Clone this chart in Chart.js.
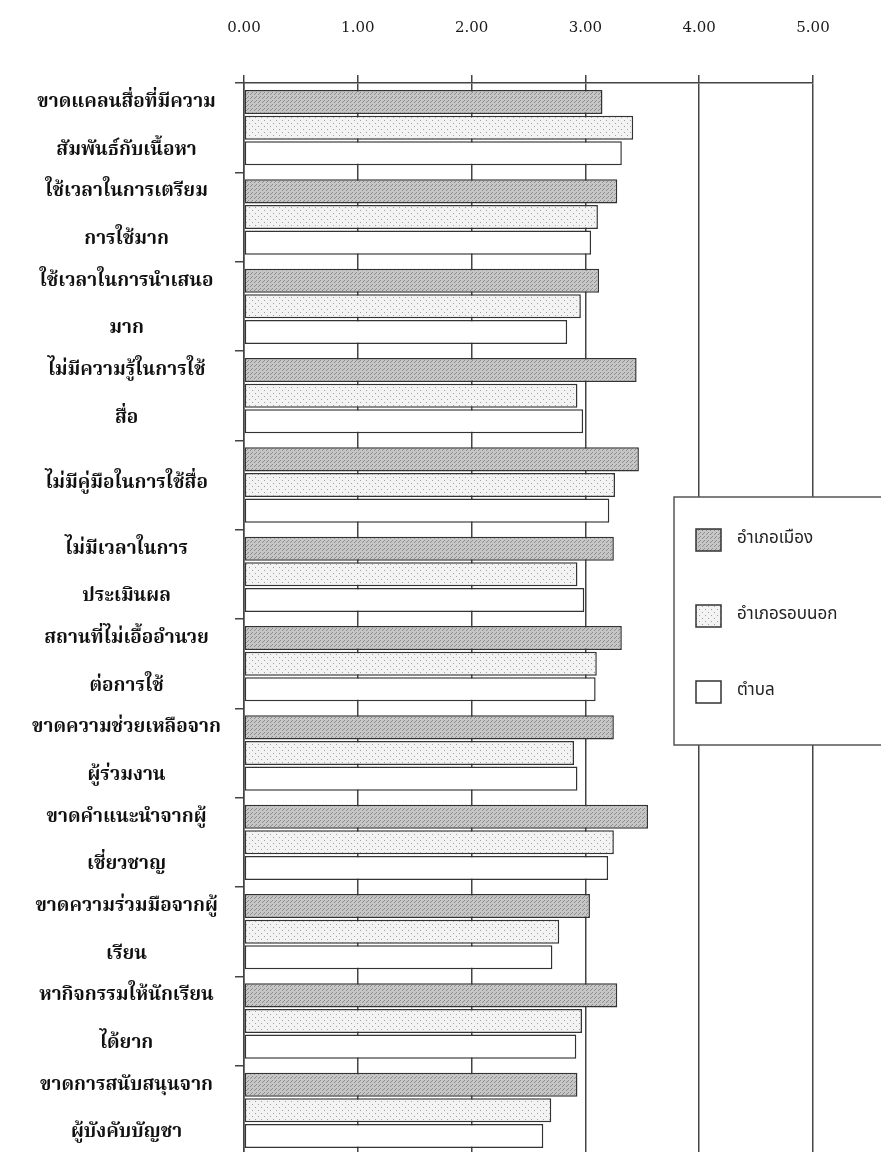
<!DOCTYPE html>
<html>
<head>
<meta charset="utf-8">
<script src="https://cdn.jsdelivr.net/npm/chart.js@4.4.1/dist/chart.umd.min.js"></script>
<style>
    html, body { margin: 0; padding: 0; background: #fff; overflow: hidden; }
    #wrap { position: relative; width: 881px; height: 1160px; }
</style>
</head>
<body>
<div id="wrap"><canvas id="barChart"></canvas></div>
<script>
// Categories (problems), top to bottom
const categories = [
    ['ขาดแคลนสื่อที่มีความ', 'สัมพันธ์กับเนื้อหา'],
    ['ใช้เวลาในการเตรียม', 'การใช้มาก'],
    ['ใช้เวลาในการนำเสนอ', 'มาก'],
    ['ไม่มีความรู้ในการใช้', 'สื่อ'],
    'ไม่มีคู่มือในการใช้สื่อ',
    ['ไม่มีเวลาในการ', 'ประเมินผล'],
    ['สถานที่ไม่เอื้ออำนวย', 'ต่อการใช้'],
    ['ขาดความช่วยเหลือจาก', 'ผู้ร่วมงาน'],
    ['ขาดคำแนะนำจากผู้', 'เชี่ยวชาญ'],
    ['ขาดความร่วมมือจากผู้', 'เรียน'],
    ['หากิจกรรมให้นักเรียน', 'ได้ยาก'],
    ['ขาดการสนับสนุนจาก', 'ผู้บังคับบัญชา']
];

const seriesNames = ['อำเภอเมือง', 'อำเภอรอบนอก', 'ตำบล'];

// Mean scores
const muangValues = [3.15, 3.28, 3.12, 3.45, 3.47, 3.25, 3.32, 3.25, 3.55, 3.04, 3.28, 2.93];
const outerValues = [3.42, 3.11, 2.96, 2.93, 3.26, 2.93, 3.10, 2.90, 3.25, 2.77, 2.97, 2.70];
const tambonValues = [3.32, 3.05, 2.84, 2.98, 3.21, 2.99, 3.09, 2.93, 3.20, 2.71, 2.92, 2.63];

const xTicks = [0, 1, 2, 3, 4, 5];

const thaiSerif = '"Noto Serif Thai", "Noto Sans Thai", serif';
const thaiSans = '"Noto Sans Thai", "Noto Sans", sans-serif';

// Small tiled patterns to mimic the printed hatching
function makePattern(size, base, dot, dots) {
    const c = document.createElement('canvas');
    c.width = size;
    c.height = size;
    const g = c.getContext('2d');
    g.fillStyle = base;
    g.fillRect(0, 0, size, size);
    g.fillStyle = dot;
    dots.forEach(p => g.fillRect(p[0], p[1], 1, 1));
    return g.createPattern(c, 'repeat');
}

const ctx = document.getElementById('barChart').getContext('2d');
const darkFill = makePattern(4, '#c6c6c6', '#8e8e8e', [[0, 0], [2, 2], [3, 1]]);
const dotFill = makePattern(6, '#f3f3f3', '#a0a0a0', [[0, 0], [3, 3]]);
const plainFill = '#ffffff';

const fills = [darkFill, dotFill, plainFill];

// Legend box drawn inside the plot, over the grid lines
const boxLegend = {
    id: 'boxLegend',
    afterDraw(chart) {
        const c = chart.ctx;
        c.save();
        c.fillStyle = '#ffffff';
        c.fillRect(674, 497, 220, 248);
        c.strokeStyle = '#555';
        c.lineWidth = 1.5;
        c.strokeRect(674, 497, 220, 248);
        c.font = '17px ' + thaiSans;
        c.textBaseline = 'middle';
        chart.data.datasets.forEach((ds, i) => {
            const y = 540 + i * 76;
            c.fillStyle = ds.backgroundColor;
            c.fillRect(696, y - 11, 25, 22);
            c.strokeStyle = '#333';
            c.lineWidth = 1.5;
            c.strokeRect(696, y - 11, 25, 22);
            c.fillStyle = '#222';
            c.fillText(ds.label, 737, y);
        });
        c.restore();
    }
};

const chart = new Chart(ctx, {
    type: 'bar',
    data: {
        labels: categories,
        datasets: [muangValues, outerValues, tambonValues].map((vals, i) => ({
            label: seriesNames[i],
            data: vals,
            backgroundColor: fills[i],
            borderColor: '#333',
            borderWidth: 1.5,
            borderSkipped: false,
            categoryPercentage: 0.86,
            barPercentage: 0.94
        }))
    },
    options: {
        indexAxis: 'y',
        responsive: true,
        maintainAspectRatio: false,
        animation: false,
        layout: {
            padding: { top: 18, right: 68, bottom: 5, left: 0 }
        },
        plugins: {
            legend: { display: false },
            tooltip: { enabled: false }
        },
        scales: {
            x: {
                position: 'top',
                min: 0,
                max: 5,
                afterBuildTicks: axis => {
                    axis.ticks = xTicks.map(v => ({ value: v }));
                },
                afterFit: axis => { axis.height = 65; },
                ticks: {
                    padding: 38,
                    color: '#1a1a1a',
                    font: { family: '"DejaVu Serif", serif', size: 15 },
                    callback: v => Number(v).toFixed(2)
                },
                grid: {
                    color: '#444',
                    lineWidth: 1.5,
                    tickLength: 8
                },
                border: { color: '#444', width: 1.5 }
            },
            y: {
                afterFit: axis => {
                    axis.width = 244;
                    // tall two-line labels should not shrink the plot
                    axis.paddingTop = 0;
                    axis.paddingBottom = 0;
                },
                ticks: {
                    autoSkip: false,
                    crossAlign: 'center',
                    padding: 14,
                    color: '#111',
                    font: {
                        family: thaiSerif,
                        size: 19,
                        weight: 'bold',
                        lineHeight: 2.5
                    }
                },
                grid: {
                    offset: true,
                    drawOnChartArea: false,
                    drawTicks: true,
                    tickLength: 9,
                    color: '#444',
                    lineWidth: 1.5
                },
                border: { color: '#444', width: 1.5 }
            }
        }
    },
    plugins: [boxLegend]
});
</script>
</body>
</html>
